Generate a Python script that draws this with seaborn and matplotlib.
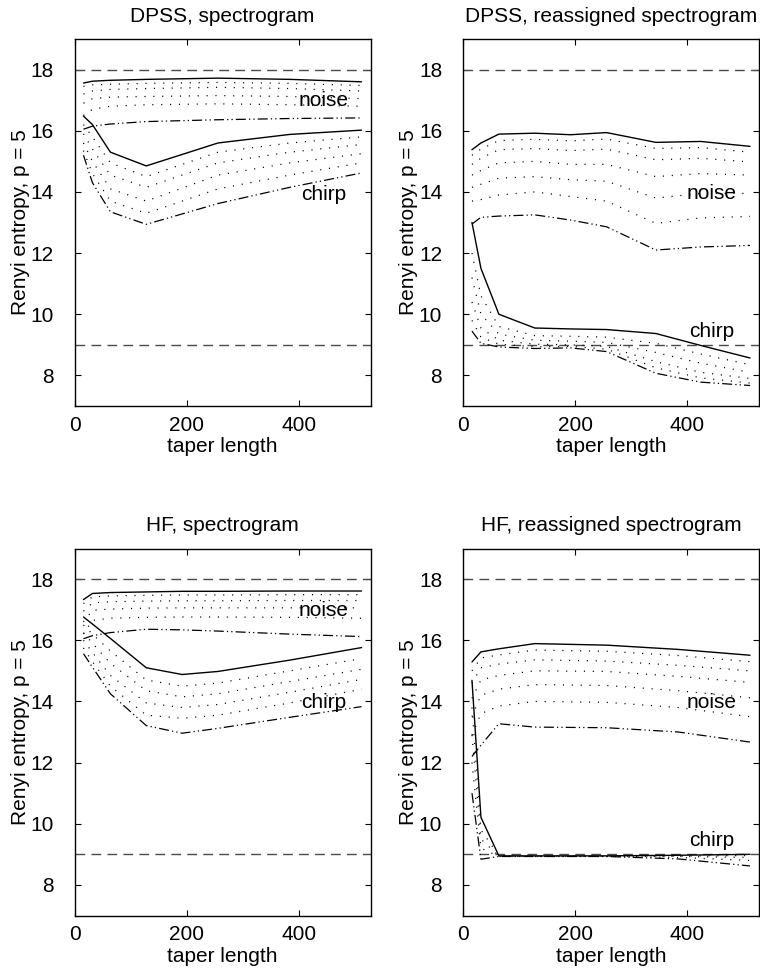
import matplotlib
matplotlib.use("Agg")
import matplotlib.pyplot as plt
import seaborn as sns

sns.set_style("ticks", {"xtick.direction": "in", "ytick.direction": "in"})
plt.rcParams["font.family"] = ["Liberation Sans", "DejaVu Sans"]
plt.rcParams["text.color"] = "black"
plt.rcParams["axes.labelcolor"] = "black"
plt.rcParams["xtick.color"] = "black"
plt.rcParams["ytick.color"] = "black"

# ---------------- data ----------------
TITLES = ["DPSS, spectrogram", "DPSS, reassigned spectrogram",
          "HF, spectrogram", "HF, reassigned spectrogram"]
REF_LEVELS = [18, 9]
X_TICKS = [0, 200, 400]
Y_TICKS = [8, 10, 12, 14, 16, 18]
XLABEL = "taper length"
YLABEL = "Renyi entropy, p = 5"

# Panel 1: DPSS, spectrogram
X1 = [16, 32, 64, 128, 256, 384, 512]
P1_NOISE_HI = [17.56, 17.62, 17.65, 17.68, 17.72, 17.68, 17.60]
P1_NOISE_LO = [16.05, 16.15, 16.22, 16.30, 16.36, 16.40, 16.42]
P1_NOISE_MID1 = [17.45, 17.50, 17.52, 17.55, 17.58, 17.55, 17.48]
P1_NOISE_MID2 = [17.20, 17.30, 17.35, 17.38, 17.42, 17.38, 17.30]
P1_NOISE_MID3 = [16.90, 17.05, 17.10, 17.12, 17.15, 17.12, 17.05]
P1_NOISE_MID4 = [16.50, 16.70, 16.80, 16.85, 16.88, 16.85, 16.80]
P1_CHIRP_HI = [16.48, 16.20, 15.30, 14.85, 15.60, 15.88, 16.02]
P1_CHIRP_LO = [15.20, 14.30, 13.35, 12.94, 13.62, 14.15, 14.62]
P1_CHIRP_MID1 = [16.20, 15.80, 14.95, 14.50, 15.30, 15.60, 15.80]
P1_CHIRP_MID2 = [15.90, 15.40, 14.55, 14.15, 14.95, 15.30, 15.55]
P1_CHIRP_MID3 = [15.60, 15.00, 14.10, 13.70, 14.55, 14.95, 15.25]
P1_CHIRP_MID4 = [15.35, 14.60, 13.70, 13.30, 14.10, 14.55, 14.95]

# Panel 2: DPSS, reassigned spectrogram
X2 = [16, 32, 64, 128, 192, 256, 344, 424, 512]
P2_NOISE_HI = [15.38, 15.60, 15.89, 15.92, 15.87, 15.94, 15.62, 15.65, 15.49]
P2_NOISE_LO = [12.95, 13.17, 13.21, 13.25, 13.08, 12.86, 12.10, 12.20, 12.25]
P2_NOISE_MID1 = [15.20, 15.40, 15.68, 15.72, 15.67, 15.73, 15.42, 15.45, 15.30]
P2_NOISE_MID2 = [14.90, 15.10, 15.38, 15.42, 15.35, 15.40, 15.05, 15.10, 14.98]
P2_NOISE_MID3 = [14.55, 14.70, 14.95, 15.00, 14.90, 14.90, 14.50, 14.60, 14.55]
P2_NOISE_MID4 = [14.15, 14.25, 14.45, 14.50, 14.40, 14.35, 13.80, 13.95, 13.95]
P2_NOISE_MID5 = [13.70, 13.75, 13.90, 14.00, 13.85, 13.70, 12.97, 13.15, 13.20]
P2_CHIRP_HI = [13.00, 11.50, 10.00, 9.55, 9.52, 9.50, 9.37, 8.98, 8.57]
P2_CHIRP_LO = [9.45, 9.05, 8.93, 8.88, 8.90, 8.78, 8.07, 7.78, 7.67]
P2_CHIRP_MID1 = [12.00, 10.60, 9.60, 9.30, 9.28, 9.25, 9.05, 8.70, 8.35]
P2_CHIRP_MID2 = [11.20, 10.00, 9.35, 9.15, 9.12, 9.08, 8.75, 8.40, 8.10]
P2_CHIRP_MID3 = [10.40, 9.55, 9.15, 9.02, 9.00, 8.95, 8.45, 8.10, 7.90]
P2_CHIRP_MID4 = [9.80, 9.25, 9.02, 8.94, 8.95, 8.86, 8.25, 7.92, 7.75]

# Panel 3: HF, spectrogram
X3 = [16, 32, 64, 128, 192, 256, 384, 512]
P3_NOISE_HI = [17.33, 17.53, 17.56, 17.58, 17.60, 17.60, 17.61, 17.61]
P3_NOISE_LO = [16.05, 16.15, 16.25, 16.36, 16.34, 16.30, 16.20, 16.12]
P3_NOISE_MID1 = [17.20, 17.42, 17.45, 17.47, 17.48, 17.48, 17.49, 17.49]
P3_NOISE_MID2 = [16.95, 17.22, 17.26, 17.28, 17.29, 17.29, 17.30, 17.30]
P3_NOISE_MID3 = [16.60, 16.98, 17.02, 17.05, 17.06, 17.06, 17.06, 17.06]
P3_NOISE_MID4 = [16.20, 16.65, 16.72, 16.75, 16.76, 16.76, 16.75, 16.72]
P3_CHIRP_HI = [16.76, 16.53, 16.06, 15.10, 14.88, 14.98, 15.35, 15.76]
P3_CHIRP_LO = [15.56, 15.12, 14.25, 13.21, 12.96, 13.12, 13.48, 13.83]
P3_CHIRP_MID1 = [16.50, 16.20, 15.65, 14.70, 14.50, 14.60, 15.00, 15.40]
P3_CHIRP_MID2 = [16.25, 15.90, 15.25, 14.35, 14.15, 14.25, 14.65, 15.05]
P3_CHIRP_MID3 = [16.00, 15.60, 14.85, 13.95, 13.80, 13.90, 14.30, 14.72]
P3_CHIRP_MID4 = [15.75, 15.30, 14.50, 13.55, 13.45, 13.55, 13.95, 14.40]

# Panel 4: HF, reassigned spectrogram
X4 = [16, 32, 64, 128, 256, 384, 512]
P4_NOISE_HI = [15.29, 15.62, 15.72, 15.89, 15.84, 15.70, 15.51]
P4_NOISE_LO = [12.20, 12.57, 13.27, 13.16, 13.14, 13.00, 12.67]
P4_NOISE_MID1 = [15.00, 15.42, 15.52, 15.68, 15.64, 15.50, 15.30]
P4_NOISE_MID2 = [14.60, 15.10, 15.22, 15.36, 15.32, 15.18, 15.00]
P4_NOISE_MID3 = [14.10, 14.70, 14.85, 15.00, 14.98, 14.82, 14.62]
P4_NOISE_MID4 = [13.50, 14.20, 14.40, 14.55, 14.52, 14.35, 14.12]
P4_NOISE_MID5 = [12.90, 13.60, 13.85, 14.00, 13.97, 13.80, 13.50]
P4_CHIRP_HI = [14.69, 10.21, 8.95, 8.95, 8.95, 8.97, 9.00]
P4_CHIRP_LO = [11.00, 8.84, 8.93, 8.93, 8.93, 8.85, 8.62]
P4_CHIRP_MID1 = [13.80, 9.80, 8.95, 8.94, 8.94, 8.95, 8.96]
P4_CHIRP_MID2 = [12.90, 9.50, 8.94, 8.94, 8.94, 8.93, 8.90]
P4_CHIRP_MID3 = [12.00, 9.20, 8.93, 8.93, 8.93, 8.90, 8.80]

# label positions (data coords)
NOISE_LABEL_Y = [16.98, 13.96, 16.98, 13.98]
CHIRP_LABEL_Y = [13.90, 9.42, 13.98, 9.44]
LABEL_X = 444

panels = [
    (X1, P1_NOISE_HI, P1_NOISE_LO, [P1_NOISE_MID1, P1_NOISE_MID2, P1_NOISE_MID3, P1_NOISE_MID4],
     P1_CHIRP_HI, P1_CHIRP_LO, [P1_CHIRP_MID1, P1_CHIRP_MID2, P1_CHIRP_MID3, P1_CHIRP_MID4]),
    (X2, P2_NOISE_HI, P2_NOISE_LO, [P2_NOISE_MID1, P2_NOISE_MID2, P2_NOISE_MID3, P2_NOISE_MID4, P2_NOISE_MID5],
     P2_CHIRP_HI, P2_CHIRP_LO, [P2_CHIRP_MID1, P2_CHIRP_MID2, P2_CHIRP_MID3, P2_CHIRP_MID4]),
    (X3, P3_NOISE_HI, P3_NOISE_LO, [P3_NOISE_MID1, P3_NOISE_MID2, P3_NOISE_MID3, P3_NOISE_MID4],
     P3_CHIRP_HI, P3_CHIRP_LO, [P3_CHIRP_MID1, P3_CHIRP_MID2, P3_CHIRP_MID3, P3_CHIRP_MID4]),
    (X4, P4_NOISE_HI, P4_NOISE_LO, [P4_NOISE_MID1, P4_NOISE_MID2, P4_NOISE_MID3, P4_NOISE_MID4, P4_NOISE_MID5],
     P4_CHIRP_HI, P4_CHIRP_LO, [P4_CHIRP_MID1, P4_CHIRP_MID2, P4_CHIRP_MID3]),
]

# ---------------- layout ----------------
W, H = 760, 971
fig = plt.figure(figsize=(W / 100, H / 100), dpi=100)
AX_W, AX_H = 296, 367
lefts = [74.5, 463, 74.5, 463]
tops = [39, 39, 548.5, 548.5]

FS = 15
SOLID = dict(color="black", lw=1.0)
DASHDOT = dict(color="black", lw=0.9, linestyle=(0, (8, 2.5, 1, 2.5, 1, 2.5)))
DOTTED = dict(color="black", lw=0.9, linestyle=(0, (0.9, 6.2)))

for i, (x, nhi, nlo, nmids, chi, clo, cmids) in enumerate(panels):
    ax = fig.add_axes([lefts[i] / W, 1 - (tops[i] + AX_H) / H, AX_W / W, AX_H / H])
    for lvl in REF_LEVELS:
        ax.axhline(lvl, color="#4a4a4a", lw=1.0, linestyle=(0, (7, 4.5)), zorder=1)
    for m in nmids + cmids:
        sns.lineplot(x=x, y=m, ax=ax, estimator=None, sort=False, **DOTTED)
    sns.lineplot(x=x, y=nlo, ax=ax, estimator=None, sort=False, **DASHDOT)
    sns.lineplot(x=x, y=clo, ax=ax, estimator=None, sort=False, **DASHDOT)
    sns.lineplot(x=x, y=nhi, ax=ax, estimator=None, sort=False, **SOLID)
    sns.lineplot(x=x, y=chi, ax=ax, estimator=None, sort=False, **SOLID)

    ax.text(LABEL_X, NOISE_LABEL_Y[i], "noise", fontsize=FS, ha="center", va="center", color="black")
    ax.text(LABEL_X, CHIRP_LABEL_Y[i], "chirp", fontsize=FS, ha="center", va="center", color="black")

    ax.set_xlim(0, 528)
    ax.set_ylim(7, 19)
    ax.set_xticks(X_TICKS)
    ax.set_yticks(Y_TICKS)
    ax.tick_params(axis="both", which="both", direction="in", top=True, right=True,
                   length=4, width=0.8, labelsize=FS, color="black", labelcolor="black")
    ax.tick_params(axis="y", pad=15)
    ax.tick_params(axis="x", pad=7)
    for sp in ax.spines.values():
        sp.set_visible(True)
        sp.set_color("black")
        sp.set_linewidth(1.0)
    ax.set_title(TITLES[i], fontsize=FS, pad=12.5, color="black")
    ax.set_xlabel(XLABEL, fontsize=FS, color="black")
    ax.set_ylabel(YLABEL, fontsize=FS, color="black")
    ax.xaxis.set_label_coords(0.5, -0.085)
    ax.yaxis.set_label_coords(-0.152, 0.5)

fig.savefig("out.png", dpi=100)
